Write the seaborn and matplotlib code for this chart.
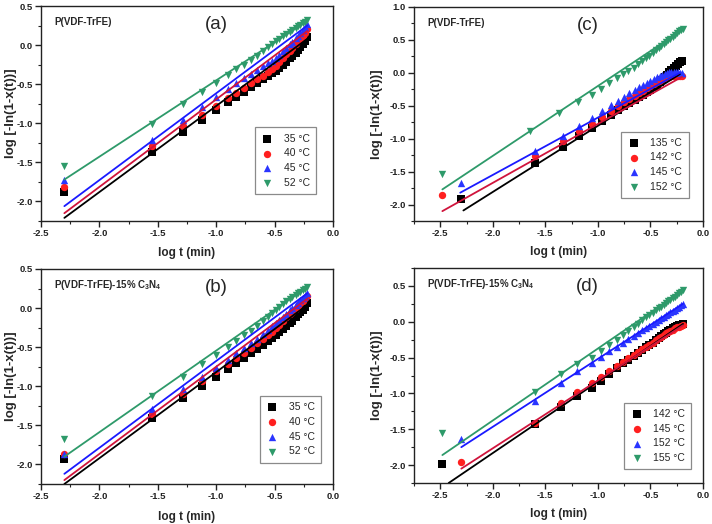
import matplotlib
matplotlib.use("Agg")
import matplotlib.pyplot as plt
import seaborn as sns
from matplotlib.ticker import MultipleLocator, FormatStrFormatter

# ---------------- data ----------------
# panel (a): P(VDF-TrFE), low temperatures
a_labels = ["35 °C", "40 °C", "45 °C", "52 °C"]
a_x = [-2.30, -1.55, -1.28, -1.12, -1.00, -0.90, -0.83, -0.76, -0.70, -0.65, -0.60, -0.56, -0.52,
       -0.49, -0.46, -0.43, -0.40, -0.37, -0.35, -0.32, -0.30, -0.28, -0.26, -0.24, -0.22]
a_35 = [-1.88, -1.37, -1.11, -0.96, -0.83, -0.73, -0.66, -0.60, -0.54, -0.49, -0.44, -0.40, -0.36,
        -0.33, -0.29, -0.25, -0.21, -0.17, -0.14, -0.10, -0.06, -0.03, 0.01, 0.05, 0.10]
a_40 = [-1.82, -1.29, -1.04, -0.90, -0.78, -0.68, -0.61, -0.55, -0.49, -0.44, -0.39, -0.35, -0.31,
        -0.27, -0.22, -0.17, -0.12, -0.07, -0.04, 0.01, 0.05, 0.08, 0.12, 0.16, 0.21]
a_45 = [-1.73, -1.21, -0.96, -0.79, -0.66, -0.56, -0.49, -0.42, -0.37, -0.32, -0.27, -0.23, -0.20,
        -0.17, -0.13, -0.08, -0.04, 0.01, 0.04, 0.09, 0.12, 0.15, 0.19, 0.23, 0.27]
a_52 = [-1.55, -1.01, -0.75, -0.60, -0.49, -0.38, -0.31, -0.25, -0.19, -0.14, -0.08, -0.03, 0.02,
        0.05, 0.08, 0.11, 0.14, 0.17, 0.19, 0.22, 0.24, 0.26, 0.28, 0.30, 0.32]
a_fit_x = [-2.30, -0.22]
a_fit_35 = [-2.21, 0.08]
a_fit_40 = [-2.15, 0.18]
a_fit_45 = [-2.06, 0.25]
a_fit_52 = [-1.72, 0.31]

# panel (b): P(VDF-TrFE)-15% C3N4, low temperatures
b_labels = ["35 °C", "40 °C", "45 °C", "52 °C"]
b_x = [-2.30, -1.55, -1.28, -1.12, -1.00, -0.90, -0.83, -0.76, -0.70, -0.65, -0.60, -0.56, -0.52,
       -0.49, -0.46, -0.43, -0.40, -0.37, -0.35, -0.32, -0.30, -0.28, -0.26, -0.24, -0.22]
b_35 = [-1.93, -1.41, -1.15, -1.00, -0.88, -0.78, -0.70, -0.64, -0.58, -0.52, -0.47, -0.42, -0.38,
        -0.35, -0.31, -0.27, -0.23, -0.19, -0.16, -0.12, -0.08, -0.05, -0.02, 0.02, 0.06]
b_40 = [-1.86, -1.36, -1.10, -0.93, -0.81, -0.71, -0.64, -0.57, -0.51, -0.45, -0.39, -0.34, -0.30,
        -0.26, -0.21, -0.17, -0.12, -0.08, -0.05, -0.01, 0.03, 0.06, 0.09, 0.13, 0.16]
b_45 = [-1.87, -1.29, -1.04, -0.88, -0.76, -0.66, -0.58, -0.51, -0.45, -0.39, -0.33, -0.28, -0.23,
        -0.19, -0.15, -0.11, -0.07, -0.03, 0.00, 0.04, 0.07, 0.10, 0.13, 0.16, 0.19]
b_52 = [-1.67, -1.13, -0.88, -0.72, -0.60, -0.50, -0.42, -0.35, -0.29, -0.23, -0.17, -0.11, -0.06,
        -0.02, 0.02, 0.05, 0.09, 0.12, 0.14, 0.17, 0.19, 0.21, 0.23, 0.25, 0.27]
b_fit_x = [-2.30, -0.22]
b_fit_35 = [-2.25, 0.04]
b_fit_40 = [-2.20, 0.12]
b_fit_45 = [-2.12, 0.19]
b_fit_52 = [-1.90, 0.27]

# panel (c): P(VDF-TrFE), high temperatures
c_labels = ["135 °C", "142 °C", "145 °C", "152 °C"]
c_first_x = [-2.30, -2.48, -2.30, -2.48]
c_x_tail = [-1.60, -1.33, -1.18, -1.06, -0.96, -0.88, -0.81, -0.75, -0.70, -0.65, -0.61, -0.57,
            -0.53, -0.50, -0.47, -0.44, -0.41, -0.39, -0.36, -0.34, -0.32, -0.30, -0.28, -0.26,
            -0.24, -0.22, -0.20]
c_135 = [-1.91, -1.37, -1.12, -0.96, -0.84, -0.73, -0.64, -0.57, -0.51, -0.46, -0.41, -0.37, -0.33,
         -0.29, -0.26, -0.22, -0.18, -0.14, -0.11, -0.06, -0.03, 0.01, 0.04, 0.08, 0.11, 0.14, 0.16, 0.18]
c_142 = [-1.85, -1.27, -1.04, -0.89, -0.77, -0.67, -0.58, -0.51, -0.45, -0.40, -0.35, -0.31, -0.27,
         -0.23, -0.20, -0.17, -0.14, -0.12, -0.10, -0.08, -0.07, -0.06, -0.05, -0.05, -0.05, -0.05,
         -0.05, -0.05]
c_145 = [-1.68, -1.18, -0.96, -0.80, -0.68, -0.58, -0.49, -0.42, -0.36, -0.31, -0.26, -0.22, -0.18,
         -0.15, -0.12, -0.09, -0.07, -0.05, -0.03, -0.01, 0.00, 0.01, 0.02, 0.02, 0.02, 0.01, 0.00, 0.00]
c_152_x = [-2.48, -1.65, -1.37, -1.19, -1.06, -0.97, -0.89, -0.82, -0.76, -0.71, -0.66, -0.62, -0.58,
           -0.54, -0.51, -0.48, -0.45, -0.42, -0.40, -0.37, -0.35, -0.33, -0.31, -0.29, -0.27, -0.25,
           -0.23, -0.21, -0.19]
c_152 = [-1.54, -0.89, -0.61, -0.44, -0.33, -0.24, -0.15, -0.08, -0.02, 0.03, 0.08, 0.13, 0.18,
         0.22, 0.26, 0.30, 0.34, 0.38, 0.41, 0.44, 0.47, 0.50, 0.52, 0.55, 0.58, 0.60, 0.63, 0.65, 0.67]
c_fit_x0 = [-2.28, -2.48, -2.31, -2.48]
c_fit_x1 = [-0.22, -0.20, -0.22, -0.19]
c_fit_y0 = [-2.09, -2.10, -1.82, -1.77]
c_fit_y1 = [-0.02, -0.06, 0.00, 0.66]

# panel (d): P(VDF-TrFE)-15% C3N4, high temperatures
d_labels = ["142 °C", "145 °C", "152 °C", "155 °C"]
d_first_x = [-2.48, -2.30, -2.30, -2.48]
d_x_tail = [-1.60, -1.35, -1.20, -1.06, -0.97, -0.89, -0.82, -0.76, -0.71, -0.66, -0.62, -0.58,
            -0.54, -0.51, -0.48, -0.45, -0.42, -0.40, -0.37, -0.35, -0.33, -0.31, -0.29, -0.27,
            -0.25, -0.23, -0.21, -0.19]
d_142 = [-1.99, -1.43, -1.19, -1.04, -0.92, -0.82, -0.73, -0.65, -0.58, -0.53, -0.48, -0.43, -0.39,
         -0.35, -0.32, -0.29, -0.26, -0.23, -0.20, -0.17, -0.15, -0.13, -0.11, -0.09, -0.08, -0.06,
         -0.05, -0.04, -0.03]
d_145 = [-1.96, -1.41, -1.13, -0.98, -0.86, -0.77, -0.69, -0.62, -0.56, -0.51, -0.46, -0.42, -0.38,
         -0.35, -0.32, -0.29, -0.26, -0.23, -0.21, -0.18, -0.16, -0.14, -0.13, -0.11, -0.09, -0.08,
         -0.07, -0.06, -0.05]
d_152 = [-1.64, -1.11, -0.86, -0.69, -0.57, -0.49, -0.41, -0.35, -0.29, -0.24, -0.20, -0.16, -0.12,
         -0.09, -0.06, -0.03, 0.00, 0.03, 0.05, 0.07, 0.09, 0.11, 0.13, 0.15, 0.17, 0.19, 0.21, 0.23, 0.25]
d_155 = [-1.55, -0.98, -0.73, -0.59, -0.50, -0.41, -0.32, -0.25, -0.18, -0.13, -0.07, -0.03, 0.02,
         0.06, 0.09, 0.12, 0.16, 0.19, 0.21, 0.24, 0.26, 0.29, 0.31, 0.33, 0.35, 0.37, 0.40, 0.42, 0.44]
d_fit_x0 = [-2.42, -2.30, -2.30, -2.48]
d_fit_x1 = [-0.19, -0.19, -0.19, -0.19]
d_fit_y0 = [-2.25, -2.05, -1.75, -1.86]
d_fit_y1 = [-0.03, -0.05, 0.25, 0.44]

# ---------------- style ----------------
marker_colors = ["#000000", "#ff1f1f", "#2a35ff", "#2e9a6a"]
line_colors = ["#000000", "#d0143c", "#1a1aff", "#2e9a6a"]
markers = ["s", "o", "^", "v"]

sns.set_theme(style="ticks")
plt.rcParams.update({
    "font.family": ["Liberation Sans", "DejaVu Sans"],
    "font.weight": "bold",
    "axes.labelweight": "bold",
    "axes.unicode_minus": False,
    "mathtext.fontset": "custom",
    "mathtext.rm": "Liberation Sans",
    "mathtext.bf": "Liberation Sans:bold",
    "axes.linewidth": 1.0,
    "axes.edgecolor": "#222222",
    "xtick.direction": "out",
    "ytick.direction": "out",
    "xtick.major.size": 4,
    "ytick.major.size": 4,
    "xtick.minor.size": 2.3,
    "ytick.minor.size": 2.3,
    "xtick.major.width": 1.0,
    "ytick.major.width": 1.0,
    "xtick.minor.width": 0.8,
    "ytick.minor.width": 0.8,
    "xtick.color": "#222222",
    "ytick.color": "#222222",
})

fig = plt.figure(figsize=(7.12, 5.24), dpi=100)
W, H = 712.0, 524.0


def make_ax(l, t, r, b):
    return fig.add_axes([l / W, 1 - b / H, (r - l) / W, (b - t) / H])


ax_a = make_ax(41, 6, 333, 221)
ax_c = make_ax(414, 7, 703, 221)
ax_b = make_ax(41, 269, 333, 484)
ax_d = make_ax(414, 268, 703, 483)


def draw(ax, xs, ys, labels, fx0, fx1, fy0, fy1):
    for i in range(4):
        sns.scatterplot(x=xs[i], y=ys[i], ax=ax, color=marker_colors[i], marker=markers[i],
                        s=28, linewidth=0, label=labels[i], zorder=3)
    for i in range(4):
        sns.lineplot(x=[fx0[i], fx1[i]], y=[fy0[i], fy1[i]], ax=ax, color=line_colors[i],
                     linewidth=1.3, zorder=4, legend=False)


draw(ax_a, [a_x] * 4, [a_35, a_40, a_45, a_52], a_labels,
     [a_fit_x[0]] * 4, [a_fit_x[1]] * 4,
     [a_fit_35[0], a_fit_40[0], a_fit_45[0], a_fit_52[0]],
     [a_fit_35[1], a_fit_40[1], a_fit_45[1], a_fit_52[1]])
draw(ax_b, [b_x] * 4, [b_35, b_40, b_45, b_52], b_labels,
     [b_fit_x[0]] * 4, [b_fit_x[1]] * 4,
     [b_fit_35[0], b_fit_40[0], b_fit_45[0], b_fit_52[0]],
     [b_fit_35[1], b_fit_40[1], b_fit_45[1], b_fit_52[1]])
draw(ax_c, [[c_first_x[0]] + c_x_tail, [c_first_x[1]] + c_x_tail, [c_first_x[2]] + c_x_tail, c_152_x],
     [c_135, c_142, c_145, c_152], c_labels, c_fit_x0, c_fit_x1, c_fit_y0, c_fit_y1)
draw(ax_d, [[d_first_x[i]] + d_x_tail for i in range(4)],
     [d_142, d_145, d_152, d_155], d_labels, d_fit_x0, d_fit_x1, d_fit_y0, d_fit_y1)

# (ax, xlim, ylim, title, tag, legend anchor, ylabel x, xlabel y)
panel_cfg = [
    (ax_a, (-2.5, 0.0), (-2.25, 0.5), "P(VDF-TrFE)", "(a)", (0.942, 0.126), -0.103, -0.149),
    (ax_b, (-2.5, 0.0), (-2.25, 0.5), r"P(VDF-TrFE)-15% C$\mathbf{_3}$N$\mathbf{_4}$", "(b)",
     (0.960, 0.100), -0.103, -0.153),
    (ax_c, (-2.75, 0.0), (-2.25, 1.0), "P(VDF-TrFE)", "(c)", (0.950, 0.107), -0.127, -0.145),
    (ax_d, (-2.75, 0.0), (-2.25, 0.75), r"P(VDF-TrFE)-15% C$\mathbf{_3}$N$\mathbf{_4}$", "(d)",
     (0.960, 0.064), -0.127, -0.143),
]

for ax, xl, yl, title, tag, lpos, ylx, xly in panel_cfg:
    ax.set_xlim(*xl)
    ax.set_ylim(*yl)
    ax.xaxis.set_major_locator(MultipleLocator(0.5))
    ax.yaxis.set_major_locator(MultipleLocator(0.5))
    ax.xaxis.set_minor_locator(MultipleLocator(0.25))
    ax.yaxis.set_minor_locator(MultipleLocator(0.25))
    ax.xaxis.set_major_formatter(FormatStrFormatter("%.1f"))
    ax.yaxis.set_major_formatter(FormatStrFormatter("%.1f"))
    ax.tick_params(axis="both", which="both", top=False, right=False, labelsize=6.8, pad=2)
    for lab in ax.get_xticklabels() + ax.get_yticklabels():
        lab.set_fontweight("bold")
    for sp in ax.spines.values():
        sp.set_visible(True)
        sp.set_linewidth(1.0)
    ax.set_xlabel("log t (min)", fontsize=8.5, fontweight="bold", va="center")
    ax.set_ylabel("log [-ln(1-x(t))]", fontsize=9.5, fontweight="bold", va="center")
    ax.yaxis.set_label_coords(ylx, 0.5)
    ax.xaxis.set_label_coords(0.5, xly)
    ax.text(0.045, 0.925, title, transform=ax.transAxes, fontsize=7.0, fontweight="bold",
            ha="left", va="center")
    ax.text(0.60, 0.915, tag, transform=ax.transAxes, fontsize=13.5, fontweight="normal",
            ha="center", va="center")
    leg = ax.legend(loc="lower right", bbox_to_anchor=lpos, fontsize=7.5, frameon=True,
                    fancybox=False, framealpha=1, edgecolor="#8a8a8a", borderpad=0.6,
                    labelspacing=0.45, handletextpad=1.0, handlelength=1.2, borderaxespad=0)
    leg.get_frame().set_linewidth(0.9)
    for t in leg.get_texts():
        t.set_fontweight("normal")

fig.savefig("out.png", dpi=100, facecolor="white")
